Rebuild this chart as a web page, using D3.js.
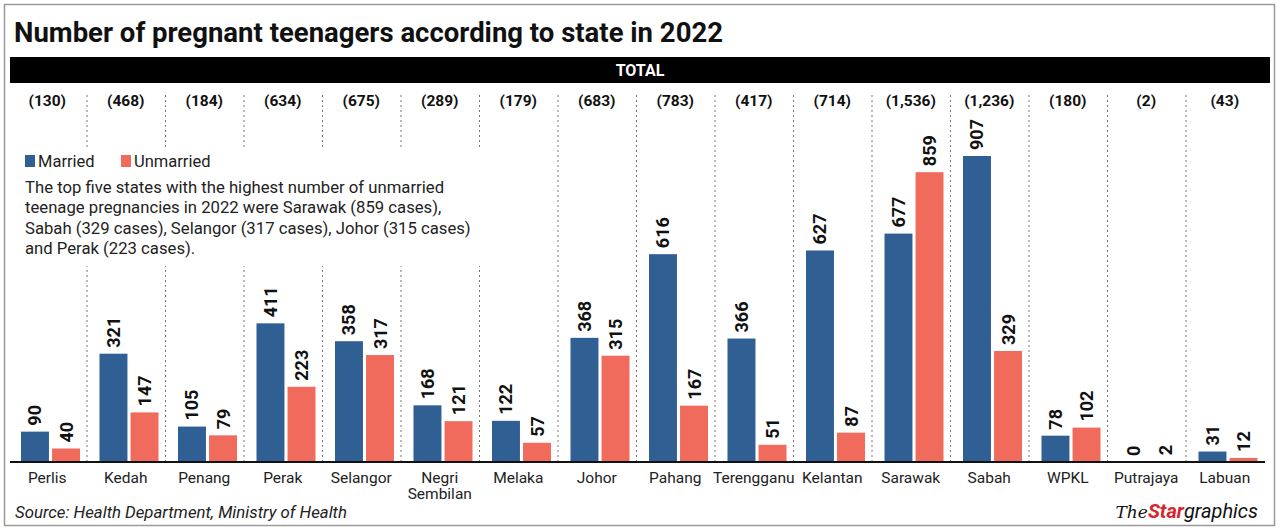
<!DOCTYPE html>
<html><head><meta charset="utf-8">
<script src="https://cdn.jsdelivr.net/npm/d3@7/dist/d3.min.js"></script>
<style>body{margin:0;background:#fff;}svg{display:block;font-family:Roboto,"Noto Sans",sans-serif;}</style>
</head><body><svg id="c" width="1280" height="532"></svg>
<script>
const states = ["Perlis","Kedah","Penang","Perak","Selangor","Negri Sembilan","Melaka","Johor","Pahang","Terengganu","Kelantan","Sarawak","Sabah","WPKL","Putrajaya","Labuan"];
const married = [90,321,105,411,358,168,122,368,616,366,627,677,907,78,0,31];
const unmarried = [40,147,79,223,317,121,57,315,167,51,87,859,329,102,2,12];
const totals = ["(130)","(468)","(184)","(634)","(675)","(289)","(179)","(683)","(783)","(417)","(714)","(1,536)","(1,236)","(180)","(2)","(43)"];
const seriesNames = ["Married","Unmarried"];
const colors = ["#2f5f93","#f06b5c"];
const noteLines = ["The top five states with the highest number of unmarried","teenage pregnancies in 2022 were Sarawak (859 cases),","Sabah (329 cases), Selangor (317 cases), Johor (315 cases)","and Perak (223 cases)."];

const svg = d3.select("#c");
svg.append("rect").attr("x",4.5).attr("y",4.5).attr("width",1270).attr("height",521).attr("fill","none").attr("stroke","#9a9a9a").attr("stroke-width",1.5);
svg.append("text").attr("x",14).attr("y",42).attr("font-size",27).attr("font-weight",700).attr("fill","#111")
  .attr("textLength",709).attr("lengthAdjust","spacingAndGlyphs").text("Number of pregnant teenagers according to state in 2022");
svg.append("rect").attr("x",10).attr("y",57).attr("width",1260).attr("height",26).attr("fill","#000");
svg.append("text").attr("x",640).attr("y",76).attr("text-anchor","middle").attr("font-size",16).attr("font-weight",700).attr("fill","#fff").text("TOTAL");

const base = 462;
const x = d3.scaleBand().domain(states).range([8,1264]).padding(0);
const y = d3.scaleLinear().domain([0,907]).range([base,156]);
const inner = d3.scaleBand().domain(seriesNames).range([13,72]).paddingInner(0.1);

// separators
svg.append("g").selectAll("line").data(states.slice(1)).join("line")
  .attr("x1",d=>x(d)+0.5).attr("x2",d=>x(d)+0.5).attr("y1",95).attr("y2",base)
  .attr("stroke","#777").attr("stroke-width",1).attr("stroke-dasharray","2,3");

// totals
svg.append("g").selectAll("text").data(states).join("text")
  .attr("x",d=>x(d)+x.bandwidth()/2).attr("y",106).attr("text-anchor","middle")
  .attr("font-size",15.5).attr("font-weight",700).attr("fill","#111")
  .text((d,i)=>totals[i]);

// white panel behind legend and note
svg.append("rect").attr("x",18).attr("y",149).attr("width",468).attr("height",117).attr("fill","#fff");

const data = [];
states.forEach((s,i)=>{data.push({s,k:0,v:married[i]});data.push({s,k:1,v:unmarried[i]});});
const bars = svg.append("g");
bars.selectAll("rect").data(data).join("rect")
  .attr("x",d=>x(d.s)+inner(seriesNames[d.k])).attr("width",inner.bandwidth())
  .attr("y",d=>y(d.v)).attr("height",d=>base-y(d.v)).attr("fill",d=>colors[d.k]);
bars.selectAll("text").data(data).join("text")
  .attr("transform",d=>`translate(${x(d.s)+inner(seriesNames[d.k])+inner.bandwidth()/2+6.5},${y(d.v)-6}) rotate(-90)`)
  .attr("font-size",18).attr("font-weight",700).attr("fill","#111").text(d=>d.v);

// axis
const ax = svg.append("g").attr("transform",`translate(0,${base})`).call(d3.axisBottom(x).tickSize(0).tickFormat(""));
ax.select(".domain").attr("stroke","#111").attr("stroke-width",2).attr("d","M10,0H1265");
const lab = svg.append("g").selectAll("text").data(states).join("text")
  .attr("x",d=>x(d)+x.bandwidth()/2).attr("y",483).attr("text-anchor","middle").attr("font-size",15.5).attr("fill","#222");
lab.each(function(d){
  const parts = d==="Negri Sembilan" ? ["Negri","Sembilan"] : [d];
  d3.select(this).selectAll("tspan").data(parts).join("tspan").attr("x",x(d)+x.bandwidth()/2).attr("dy",(p,i)=>i?16:0).text(p=>p);
});

// legend
const lg = svg.append("g");
seriesNames.forEach((n,i)=>{
  const lx = [25,121][i];
  lg.append("rect").attr("x",lx).attr("y",155).attr("width",10).attr("height",12).attr("fill",colors[i]);
  lg.append("text").attr("x",lx+13).attr("y",167).attr("font-size",16.5).attr("fill","#222").text(n);
});
svg.append("g").selectAll("text").data(noteLines).join("text")
  .attr("x",25).attr("y",(d,i)=>193+i*20.3).attr("font-size",16.7).attr("fill","#222").text(d=>d);

svg.append("text").attr("x",15).attr("y",518).attr("font-size",16.8).attr("font-style","italic").attr("fill","#222")
  .text("Source: Health Department, Ministry of Health");
const logo = svg.append("text").attr("x",1258).attr("y",518).attr("text-anchor","end").attr("font-size",20).attr("font-style","italic");
logo.append("tspan").attr("font-family","DejaVu Serif, serif").attr("font-size",17).attr("fill","#111").text("The");
logo.append("tspan").attr("font-weight",700).attr("fill","#d7262d").text("Star");
logo.append("tspan").attr("fill","#111").text("graphics");
</script></body></html>
